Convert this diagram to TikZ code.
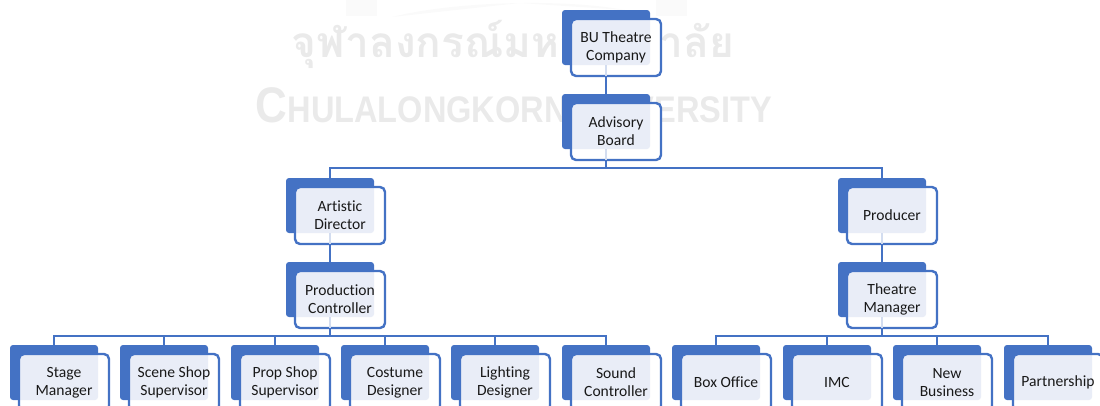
\documentclass[tikz,border=0pt]{standalone}
\usepackage{fontspec}
\setmainfont[Ligatures=NoCommon]{Carlito}
\newfontfamily\thaifont[Script=Thai]{Loma}
\newfontfamily\markfont{Liberation Sans}
\definecolor{orgblue}{HTML}{4472C4}
\definecolor{orgpanel}{HTML}{E9EDF7}
\definecolor{orgfaint}{HTML}{D3DDF0}
\definecolor{orgmark}{HTML}{EAEAEA}
\definecolor{orgcrest}{HTML}{FAFAFA}
\tikzset{
  backbox/.style={fill=orgblue,rounded corners=3pt,anchor=north west,inner sep=0pt,outer sep=0pt,minimum width=88pt,minimum height=55pt},
  frontbox/.style={draw=orgblue,fill=white,line width=2.4pt,rounded corners=5pt,inner sep=0pt,outer sep=0pt,anchor=north west,minimum width=90pt,minimum height=57pt,align=center,text=black!90,font=\fontsize{15.6pt}{18pt}\selectfont},
  conn/.style={draw=orgblue,line width=2.4pt},
  connfaint/.style={draw=orgfaint,line width=2.4pt},
}
\newcommand{\orgbox}[4]{
  \node[backbox] (#1b) at (#2,#3) {};
  \node[frontbox,path picture={\fill[orgpanel,rounded corners=3pt] (#1b.north west) rectangle (#1b.south east);}] (#1) at (#2+9,#3+9) {#4};
}
\begin{document}
\begin{tikzpicture}[x=1pt,y=-1pt]
\useasboundingbox (0,0) rectangle (1100,405);

% crest behind the text
\fill[orgcrest] (346,0) rectangle (377,16);
\fill[orgcrest] (656,0) rectangle (687,16);
\fill[orgcrest] (392,17) .. controls (450,2) and (560,-2) .. (625,10) -- (520,3) -- cycle;

\node[orgmark,font=\thaifont\bfseries\fontsize{42.4pt}{42.4pt}\selectfont] (markth) at (513,44) {จุฬาลงกรณ์มหาวิทยาลัย};
\node[orgmark,font=\markfont\bfseries\fontsize{37pt}{37pt}\selectfont,anchor=base] (markuni) at (514,122) {\scalebox{0.88}[1]{{\fontsize{50pt}{50pt}\selectfont C}HULALONGKORN UNIVERSITY}};

\orgbox{company}{562}{10}{BU Theatre\\Company}
\orgbox{advisory}{562}{94}{Advisory\\Board}
\orgbox{artistic}{286}{178}{Artistic\\Director}
\orgbox{producer}{838}{178}{Producer}
\orgbox{production}{286}{262}{Production\\Controller}
\orgbox{theatre}{838}{262}{Theatre\\Manager}

\orgbox{stage}{10}{345}{Stage\\Manager}
\orgbox{scene}{120}{345}{Scene Shop\\Supervisor}
\orgbox{prop}{231}{345}{Prop Shop\\Supervisor}
\orgbox{costume}{341}{345}{Costume\\Designer}
\orgbox{lighting}{451}{345}{Lighting\\Designer}
\orgbox{sound}{562}{345}{Sound\\Controller}
\orgbox{boxoffice}{672}{345}{Box Office}
\orgbox{imc}{783}{345}{IMC}
\orgbox{business}{893}{345}{New\\Business}
\orgbox{partner}{1004}{345}{Partnership}

\coordinate (bustop) at (606,168);
\coordinate (busleft) at (330,336);
\coordinate (busright) at (882,336);

\draw[connfaint] (companyb.south) -- (company.south -| companyb.south);
\draw[connfaint] (advisoryb.south) -- (advisory.south -| advisoryb.south);
\draw[connfaint] (artisticb.south) -- (artistic.south -| artisticb.south);
\draw[connfaint] (producerb.south) -- (producer.south -| producerb.south);
\draw[connfaint] (productionb.south) -- (production.south -| productionb.south);
\draw[connfaint] (theatreb.south) -- (theatre.south -| theatreb.south);

\draw[conn] (company.south -| companyb.south) -- (advisoryb.north);
\draw[conn] (advisory.south -| advisoryb.south) -- (bustop);
\draw[conn] (artisticb.north) |- (bustop) -| (producerb.north);
\draw[conn] (artistic.south -| artisticb.south) -- (productionb.north);
\draw[conn] (producer.south -| producerb.south) -- (theatreb.north);

\draw[conn] (production.south -| productionb.south) -- (busleft);
\draw[conn] (stageb.north) |- (busleft) -| (soundb.north);
\draw[conn] (sceneb.north) -- (sceneb.north |- busleft);
\draw[conn] (propb.north) -- (propb.north |- busleft);
\draw[conn] (costumeb.north) -- (costumeb.north |- busleft);
\draw[conn] (lightingb.north) -- (lightingb.north |- busleft);

\draw[conn] (theatre.south -| theatreb.south) -- (busright);
\draw[conn] (boxofficeb.north) |- (busright) -| (partnerb.north);
\draw[conn] (imcb.north) -- (imcb.north |- busright);
\draw[conn] (businessb.north) -- (businessb.north |- busright);
\end{tikzpicture}
\end{document}
